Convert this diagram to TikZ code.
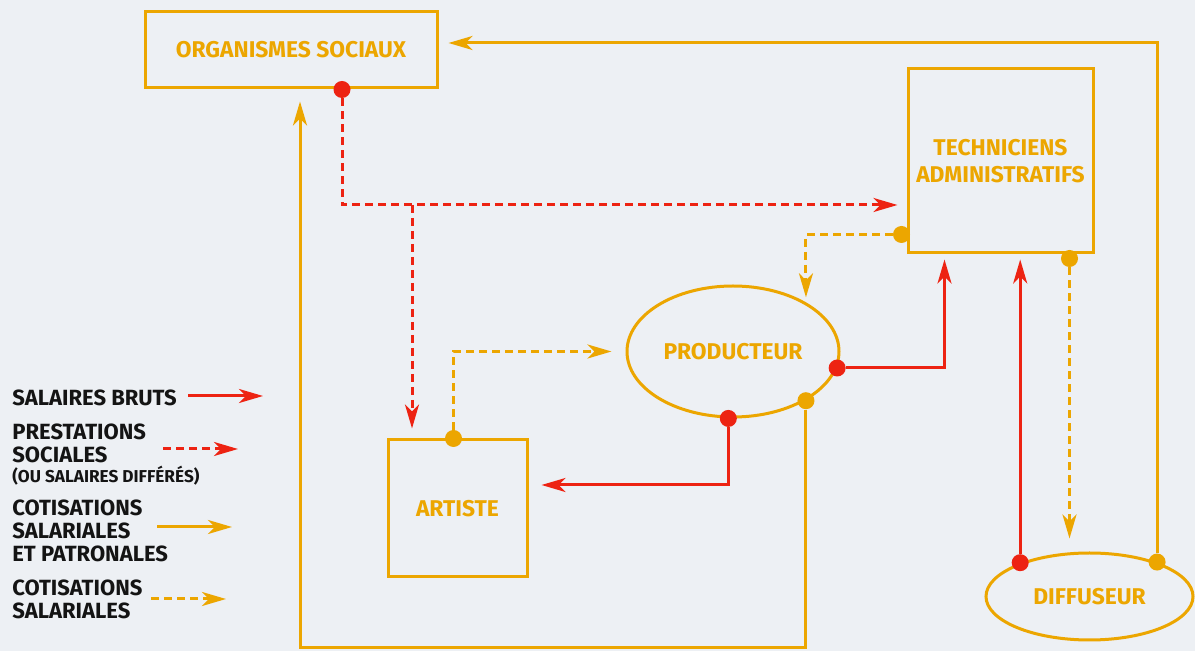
\documentclass[tikz,border=0pt]{standalone}
\usepackage{fontspec}
\setmainfont{Fira Sans}
\usetikzlibrary{positioning, calc, arrows.meta, shapes.geometric}
\definecolor{Orng}{RGB}{236,166,0}
\definecolor{Rouge}{RGB}{237,35,18}
\definecolor{Papier}{RGB}{237,240,244}
\definecolor{Encre}{RGB}{20,20,20}

\begin{document}
\begin{tikzpicture}[
    x=0.5pt, y=-0.5pt,
    >={Stealth[length=12pt, width=7pt, inset=3.5pt]},
    orangeline/.style={draw=Orng, line width=1.5pt},
    redline/.style={draw=Rouge, line width=1.5pt},
    orangedash/.style={orangeline, dash pattern=on 4pt off 2.5pt},
    reddash/.style={redline, dash pattern=on 4pt off 2.5pt},
    cmpt/.style={draw=Orng, line width=1.5pt, align=center, inner sep=0pt, text=Orng, font=\bfseries\fontsize{11.4}{13.5}\selectfont},
    oval/.style={cmpt, ellipse},
    reddot/.style={circle, fill=Rouge, inner sep=0pt, minimum size=8.5pt},
    orangedot/.style={circle, fill=Orng, inner sep=0pt, minimum size=8.5pt},
    legend/.style={anchor=north west, inner sep=0pt, align=left, text=Encre, font=\bfseries\fontsize{11}{11.5}\selectfont}]

    \useasboundingbox (0,0) rectangle (1195,651);
    \fill [Papier] (0,0) rectangle (1195,651);

    % les acteurs
    \node at (291,50) [cmpt, minimum width=146pt, minimum height=38pt] (organismes) {ORGANISMES SOCIAUX};
    \node at (1000.5,161) [cmpt, minimum width=92.5pt, minimum height=92pt] (techniciens) {TECHNICIENS\\ADMINISTRATIFS};
    \node at (457.5,508.5) [cmpt, minimum width=69.5pt, minimum height=68.5pt] (artiste) {ARTISTE};
    \node at (733,351.5) [oval, minimum width=106pt, minimum height=65.5pt] (producteur) {PRODUCTEUR};
    \node at (1089.5,596.5) [oval, minimum width=103.5pt, minimum height=43.5pt] (diffuseur) {DIFFUSEUR};

    % points de depart
    \node [reddot] (orgdot) at ([xshift=25.5pt]organismes.south) {};
    \node [orangedot] (artdot) at ([xshift=-2pt]artiste.north) {};
    \node [orangedot] (techdotL) at ([shift={(-2.5pt,10pt)}]techniciens.south west) {};
    \node [orangedot] (techdotB) at ([shift={(-12.5pt,-2pt)}]techniciens.south east) {};
    \node [reddot] (proddotR) at (producteur.-9) {};
    \node [reddot] (proddotB) at (producteur.-94) {};
    \node [orangedot] (proddotO) at (producteur.-34) {};
    \node [reddot] (diffdotR) at (diffuseur.154) {};
    \node [orangedot] (diffdotO) at (diffuseur.27) {};

    \coordinate (redfork) at (412,205);
    \coordinate (detour) at (300,648);

    % flux
    \draw [reddash, ->, shorten >=4.5pt] (orgdot) |- (redfork -| techniciens.west);
    \draw [reddash, ->, shorten >=5pt] (redfork) -- (redfork |- artiste.north);
    \draw [orangedash, ->, shorten >=7pt] (artdot) |- (producteur.west);
    \draw [orangedash, ->, shorten >=2.5pt] (techdotL) -| (producteur.34);
    \draw [redline, ->, shorten >=2.5pt] (proddotR) -| ([xshift=19pt]techniciens.south west);
    \draw [redline, ->, shorten >=6.5pt] (proddotB) |- ([yshift=11.75pt]artiste.east);
    \draw [orangeline, ->, shorten >=6pt] (proddotO) |- (detour) -- (detour |- organismes.south);
    \draw [orangedash, ->, shorten >=6.5pt] (techdotB) -- (techdotB |- diffuseur.north);
    \draw [redline, ->, shorten >=2.5pt] (diffdotR) -- (diffdotR |- techniciens.south);
    \draw [orangeline, ->, shorten >=5pt] (diffdotO) |- ([yshift=3.5pt]organismes.east);

    % legende
    \node [legend] (salaires) at (12,389) {SALAIRES BRUTS};
    \node [legend] (prestations) at (12,423) {PRESTATIONS\\SOCIALES};
    \node [legend, font=\bfseries\fontsize{8.6}{9}\selectfont] (differes) at (12,466) {(OU SALAIRES DIFFÉRÉS)};
    \node [legend] (cotisations) at (12,499) {COTISATIONS\\SALARIALES\\ET PATRONALES};
    \node [legend] (cotsal) at (12,579) {COTISATIONS\\SALARIALES};

    \coordinate (brutsA) at (188,396);  \coordinate (brutsB) at (263,396);
    \coordinate (prestA) at (163,449);  \coordinate (prestB) at (238,449);
    \coordinate (cotisA) at (157,527);  \coordinate (cotisB) at (232,527);
    \coordinate (salarA) at (151,599);  \coordinate (salarB) at (226,599);
    \draw [redline, ->] (brutsA) -- (brutsB);
    \draw [reddash, ->] (prestA) -- (prestB);
    \draw [orangeline, ->] (cotisA) -- (cotisB);
    \draw [orangedash, ->] (salarA) -- (salarB);

\end{tikzpicture}
\end{document}
